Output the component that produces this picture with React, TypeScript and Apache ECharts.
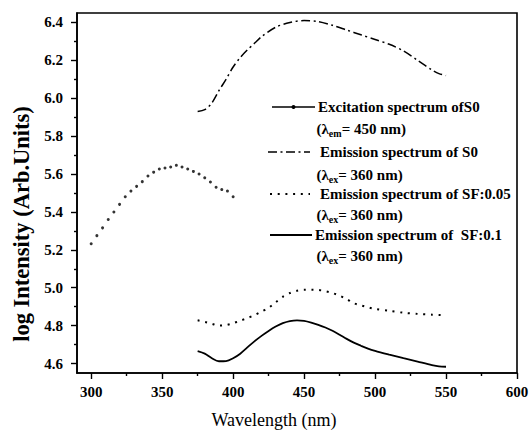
import React, { useEffect, useRef } from "react";
import * as echarts from "echarts";

// ---- data ----
const excitationX = [300, 304, 308, 312, 316, 320, 324, 328, 332, 336, 340, 344, 348, 352, 356, 360, 364, 368, 372, 376, 380, 384, 388, 392, 396, 400];
const excitationY = [5.232, 5.275, 5.316, 5.36, 5.4, 5.44, 5.48, 5.51, 5.535, 5.56, 5.59, 5.61, 5.627, 5.632, 5.637, 5.646, 5.637, 5.627, 5.614, 5.6, 5.58, 5.558, 5.53, 5.518, 5.51, 5.48];

const emS0X = [375, 380, 385, 390, 395, 400, 405, 410, 415, 420, 430, 440, 450, 460, 470, 480, 490, 500, 510, 520, 530, 540, 545, 550];
const emS0Y = [5.93, 5.94, 5.975, 6.04, 6.1, 6.165, 6.215, 6.255, 6.29, 6.325, 6.375, 6.4, 6.41, 6.405, 6.385, 6.36, 6.335, 6.31, 6.285, 6.25, 6.2, 6.15, 6.13, 6.12];

const sf005X = [375, 380, 385, 390, 395, 400, 405, 410, 415, 420, 425, 430, 435, 440, 445, 450, 455, 460, 465, 470, 475, 480, 485, 490, 495, 500, 510, 520, 530, 540, 550];
const sf005Y = [4.828, 4.82, 4.81, 4.8, 4.803, 4.813, 4.826, 4.84, 4.855, 4.874, 4.894, 4.923, 4.952, 4.972, 4.984, 4.99, 4.99, 4.988, 4.982, 4.972, 4.958, 4.94, 4.918, 4.907, 4.897, 4.888, 4.878, 4.868, 4.862, 4.858, 4.855];

const sf01X = [375, 380, 385, 390, 395, 400, 405, 410, 415, 420, 425, 430, 435, 440, 445, 450, 455, 460, 465, 470, 475, 480, 485, 490, 495, 500, 510, 520, 530, 540, 545, 550];
const sf01Y = [4.665, 4.652, 4.628, 4.612, 4.613, 4.628, 4.652, 4.685, 4.717, 4.746, 4.772, 4.795, 4.813, 4.824, 4.828, 4.825, 4.816, 4.804, 4.79, 4.773, 4.752, 4.73, 4.71, 4.694, 4.679, 4.667, 4.647, 4.628, 4.61, 4.592, 4.585, 4.583];

const xMajorTicks = [300, 350, 400, 450, 500, 550, 600];
const xMinorTicks = [325, 375, 425, 475, 525, 575];
const yMajorTicks = [4.6, 4.8, 5.0, 5.2, 5.4, 5.6, 5.8, 6.0, 6.2, 6.4];
const yMinorTicks = [4.7, 4.9, 5.1, 5.3, 5.5, 5.7, 5.9, 6.1, 6.3];

const legendTitles = [
  "Excitation spectrum ofS0",
  "Emission spectrum of S0",
  "Emission spectrum of SF:0.05",
  "Emission spectrum of  SF:0.1",
];
const legendSubs = [
  "(λ{sub|em}= 450 nm)",
  "(λ{sub|ex}= 360 nm)",
  "(λ{sub|ex}= 360 nm)",
  "(λ{sub|ex}= 360 nm)",
];

const FONT = "Liberation Serif";

const zip = (xs: number[], ys: number[]) => xs.map((x, i) => [x, ys[i]]);

export default function App() {
  const ref = useRef<HTMLDivElement>(null);
  useEffect(() => {
    document.body.style.margin = "0";
    const chart = echarts.init(ref.current!, null, { renderer: "svg" });

    const axisLine = { show: true, lineStyle: { color: "#000", width: 1.6 } };
    const labelStyle = { color: "#000", fontSize: 15, fontWeight: "bold" as const, fontFamily: FONT };

    const subRich = {
      sub: { fontSize: 10, fontFamily: FONT, fontWeight: "bold", padding: [9, 0, 0, 0] },
    };

    const legendRows = [
      { lineY: 107, x1: 272, x2: 315, textX: 318, subY: 129, dash: null as number[] | null, width: 1.5, dot: true },
      { lineY: 152, x1: 268, x2: 310, textX: 320, subY: 175, dash: [9, 3.5, 2, 3.5], width: 1.5, dot: false },
      { lineY: 194, x1: 270, x2: 310, textX: 320, subY: 215, dash: [2, 5.7], width: 2, dot: false },
      { lineY: 235, x1: 270, x2: 312, textX: 315, subY: 256, dash: null, width: 1.8, dot: false },
    ];
    const graphic: any[] = [];
    legendRows.forEach((r, i) => {
      graphic.push({
        type: "line",
        shape: { x1: r.x1, y1: r.lineY, x2: r.x2, y2: r.lineY },
        style: { stroke: "#000", lineWidth: r.width, lineDash: r.dash || undefined },
        silent: true,
      });
      if (r.dot) {
        graphic.push({ type: "circle", shape: { cx: (r.x1 + r.x2) / 2, cy: r.lineY, r: 2 }, style: { fill: "#000" } });
      }
      graphic.push({
        type: "text",
        x: r.textX,
        y: r.lineY,
        style: { text: legendTitles[i], fill: "#000", fontSize: 15, fontWeight: "bold", fontFamily: FONT, verticalAlign: "middle" },
      });
      graphic.push({
        type: "text",
        x: 316.5,
        y: r.subY,
        style: { text: legendSubs[i], fill: "#000", fontSize: 15, fontWeight: "bold", fontFamily: FONT, verticalAlign: "middle", rich: subRich },
      });
    });

    chart.setOption({
      animation: false,
      backgroundColor: "#fff",
      textStyle: { fontFamily: FONT },
      grid: {
        left: 77, right: 12, top: 13, bottom: 57,
        outerBoundsMode: "none",
        containLabel: false,
        show: true, borderColor: "#000", borderWidth: 1.6, backgroundColor: "transparent",
      },
      xAxis: [
        {
          type: "value",
          min: 290,
          max: 600,
          axisLine,
          axisTick: { show: true, customValues: xMajorTicks, length: 6, lineStyle: { color: "#000", width: 1.4 } },
          axisLabel: { show: true, customValues: xMajorTicks, margin: 11, ...labelStyle },
          splitLine: { show: false },
          name: "Wavelength (nm)",
          nameLocation: "middle",
          nameGap: 38,
          nameTextStyle: { color: "#000", fontSize: 18, fontFamily: FONT, padding: [0, 46, 0, 0] },
        },
        {
          type: "value",
          min: 290,
          max: 600,
          position: "bottom",
          axisLine: { show: false },
          axisTick: { show: true, customValues: xMinorTicks, length: 3, lineStyle: { color: "#000", width: 1.4 } },
          axisLabel: { show: false },
          splitLine: { show: false },
        },
      ],
      yAxis: [
        {
          type: "value",
          min: 4.55,
          max: 6.45,
          axisLine,
          axisTick: { show: true, customValues: yMajorTicks, length: 6, lineStyle: { color: "#000", width: 1.4 } },
          axisLabel: { show: true, customValues: yMajorTicks, margin: 14, formatter: (v: number) => v.toFixed(1), ...labelStyle },
          splitLine: { show: false },
          name: "log Intensity (Arb.Units)",
          nameLocation: "middle",
          nameGap: 39,
          nameTextStyle: { color: "#000", fontSize: 22.5, fontWeight: "bold", fontFamily: FONT, padding: [0, 62, 0, 0] },
        },
        {
          type: "value",
          min: 4.55,
          max: 6.45,
          position: "left",
          axisLine: { show: false },
          axisTick: { show: true, customValues: yMinorTicks, length: 3, lineStyle: { color: "#000", width: 1.4 } },
          axisLabel: { show: false },
          splitLine: { show: false },
        },
      ],
      series: [
        {
          name: legendTitles[0],
          type: "scatter",
          data: zip(excitationX, excitationY),
          symbol: "circle",
          symbolSize: 3,
          itemStyle: { color: "#000" },
        },
        {
          name: legendTitles[1],
          type: "line",
          data: zip(emS0X, emS0Y),
          smooth: 0.3,
          showSymbol: false,
          lineStyle: { color: "#000", width: 1.5, type: [9, 3.5, 2, 3.5] },
        },
        {
          name: legendTitles[2],
          type: "line",
          data: zip(sf005X, sf005Y),
          smooth: 0.3,
          showSymbol: false,
          lineStyle: { color: "#000", width: 2, type: [2, 5.7] },
        },
        {
          name: legendTitles[3],
          type: "line",
          data: zip(sf01X, sf01Y),
          smooth: 0.3,
          showSymbol: false,
          lineStyle: { color: "#000", width: 1.8 },
        },
      ],
      graphic,
    });
    return () => chart.dispose();
  }, []);
  return <div ref={ref} style={{ position: "absolute", left: 0, top: 0, width: 529, height: 430 }} />;
}
